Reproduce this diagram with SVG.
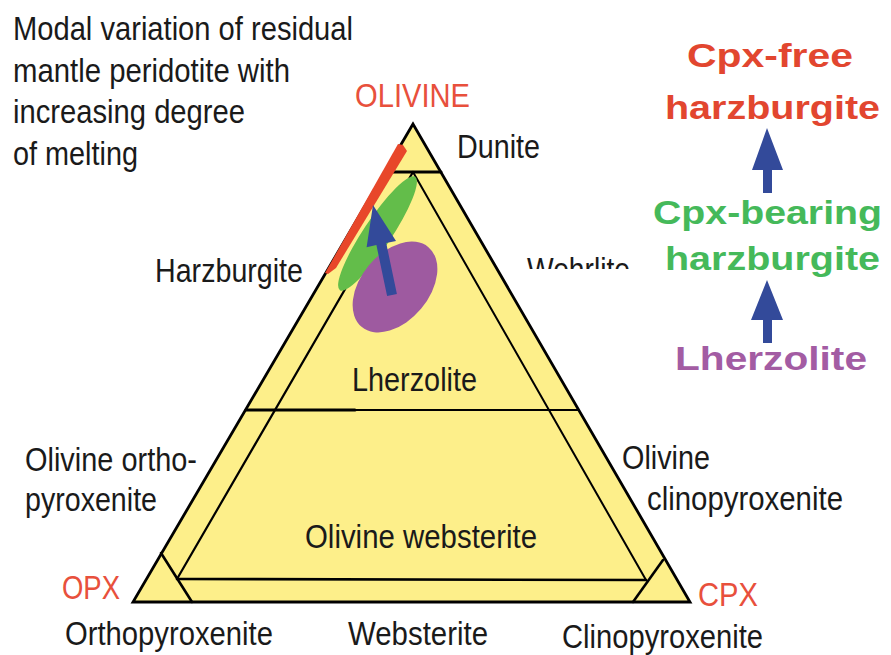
<svg xmlns="http://www.w3.org/2000/svg" width="891" height="655" viewBox="0 0 891 655">
<style>
.lbl{font-family:"Liberation Sans",Arial,sans-serif;font-size:33px;fill:#1a1a1a}
.red{fill:#e8503c}
.bold{font-family:"Liberation Sans",Arial,sans-serif;font-weight:bold;font-size:34px}
.ln{stroke:#000;fill:none;stroke-linecap:round}
</style>
<defs>
<clipPath id="clipW"><rect x="500" y="240" width="160" height="29"/></clipPath>
</defs>
<rect width="891" height="655" fill="#fff"/>

<g id="title">
<text class="lbl" x="13" y="40" textLength="340" lengthAdjust="spacingAndGlyphs">Modal variation of residual</text>
<text class="lbl" x="13" y="82" textLength="277" lengthAdjust="spacingAndGlyphs">mantle peridotite with</text>
<text class="lbl" x="13" y="123" textLength="232" lengthAdjust="spacingAndGlyphs">increasing degree</text>
<text class="lbl" x="13" y="165" textLength="125" lengthAdjust="spacingAndGlyphs">of melting</text>
</g>

<g id="triangle">
<polygon points="413,124 133,602 690,602" fill="#fdef8a" stroke="#000" stroke-width="2.8" stroke-linejoin="miter"/>
<line class="ln" x1="385" y1="172" x2="441" y2="172" stroke-width="3"/>
<line class="ln" x1="413" y1="172" x2="177" y2="579" stroke-width="2.2"/>
<line class="ln" x1="413" y1="172" x2="646" y2="580" stroke-width="2"/>
<line class="ln" x1="246" y1="410" x2="355" y2="410" stroke-width="3"/>
<line class="ln" x1="355" y1="410" x2="578" y2="410" stroke-width="1.8"/>
<line class="ln" x1="177" y1="579" x2="646" y2="580" stroke-width="2.6"/>
<line class="ln" x1="161" y1="553" x2="192" y2="602" stroke-width="2.6"/>
<line class="ln" x1="663" y1="560" x2="633" y2="602" stroke-width="2.6"/>
</g>

<g id="fields">
<polygon id="cpx-free-field" points="398,144 403,145 407,151 336,268 328,274 325,273" fill="#e8472a"/>
<ellipse id="cpx-bearing-field" cx="377.5" cy="233.5" rx="68" ry="14" transform="rotate(-56.4 377.5 233.5)" fill="#63bd4a"/>
<ellipse id="lherzolite-field" cx="395" cy="287" rx="52" ry="34" transform="rotate(-50 395 287)" fill="#9e5aa0"/>
</g>

<g id="connectors" fill="#334a9a">
<polygon id="arrow-melting" points="373,205 396,241 386.2,243.1 396.9,294 387.1,296 376.4,245.1 366.6,247.2"/>
<polygon id="arrow-right-1" points="767,128 783,170 772,170 772,193 763,193 763,170 752,170"/>
<polygon id="arrow-right-2" points="767,280 783,320 772,320 772,343 763,343 763,320 751,320"/>
</g>

<g id="labels">
<text class="lbl red" x="355" y="107" textLength="115" lengthAdjust="spacingAndGlyphs">OLIVINE</text>
<text class="lbl" x="457" y="158" textLength="83" lengthAdjust="spacingAndGlyphs">Dunite</text>
<text class="lbl" x="155" y="282" textLength="148" lengthAdjust="spacingAndGlyphs">Harzburgite</text>
<text class="lbl" x="527" y="281" textLength="103" lengthAdjust="spacingAndGlyphs" clip-path="url(#clipW)">Wehrlite</text>
<text class="lbl" x="352" y="391" textLength="125" lengthAdjust="spacingAndGlyphs">Lherzolite</text>
<text class="lbl" x="25" y="471" textLength="172" lengthAdjust="spacingAndGlyphs">Olivine ortho-</text>
<text class="lbl" x="25" y="511" textLength="132" lengthAdjust="spacingAndGlyphs">pyroxenite</text>
<text class="lbl" x="622" y="469" textLength="88" lengthAdjust="spacingAndGlyphs">Olivine</text>
<text class="lbl" x="647" y="510" textLength="196" lengthAdjust="spacingAndGlyphs">clinopyroxenite</text>
<text class="lbl" x="305" y="548" textLength="232" lengthAdjust="spacingAndGlyphs">Olivine websterite</text>
<text class="lbl red" x="62" y="599" textLength="58" lengthAdjust="spacingAndGlyphs">OPX</text>
<text class="lbl red" x="698" y="606" textLength="60" lengthAdjust="spacingAndGlyphs">CPX</text>
<text class="lbl" x="65" y="645" textLength="208" lengthAdjust="spacingAndGlyphs">Orthopyroxenite</text>
<text class="lbl" x="348" y="645" textLength="140" lengthAdjust="spacingAndGlyphs">Websterite</text>
<text class="lbl" x="562" y="648" textLength="201" lengthAdjust="spacingAndGlyphs">Clinopyroxenite</text>
</g>

<g id="legend">
<text class="bold" x="687" y="67" fill="#e2462f" font-size="37" textLength="166" lengthAdjust="spacingAndGlyphs">Cpx-free</text>
<text class="bold" x="665" y="119" fill="#e2462f" textLength="215" lengthAdjust="spacingAndGlyphs">harzburgite</text>
<text class="bold" x="653" y="224" fill="#45b95a" textLength="229" lengthAdjust="spacingAndGlyphs">Cpx-bearing</text>
<text class="bold" x="665" y="270" fill="#45b95a" textLength="215" lengthAdjust="spacingAndGlyphs">harzburgite</text>
<text class="bold" x="675" y="370" fill="#a35ca3" font-size="36" textLength="192" lengthAdjust="spacingAndGlyphs">Lherzolite</text>
</g>
</svg>
